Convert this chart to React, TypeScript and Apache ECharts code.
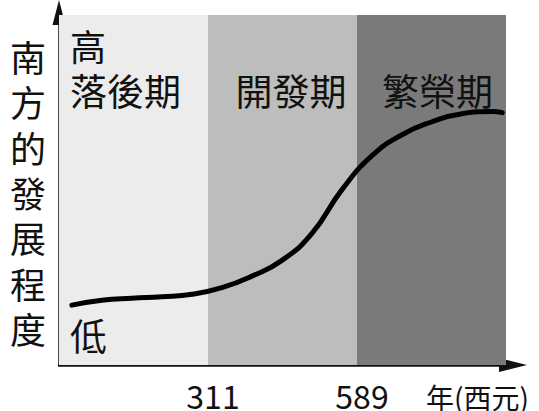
import React, { useEffect, useRef } from "react";
import * as echarts from "echarts";

// Years (西元) and development level (0–100)
const years = [57, 113, 169, 225, 281, 337, 393, 449, 505, 561, 617, 673, 729, 785, 841, 860];
const levels = [17.1, 18.5, 19.1, 19.5, 20.2, 22.1, 25.4, 29.9, 37.6, 50.1, 59.8, 65.8, 69.5, 71.8, 72.4, 72.1];

// Period boundaries (years) and names
const periodBounds = [33, 311, 589, 867];
const periodNames = ["落後期", "開發期", "繁榮期"];
const tickYears = [311, 589];

const yAxisTitle = "南方的發展程度";
const highLabel = "高";
const lowLabel = "低";
const xAxisTitle = "年(西元)";

const FONT = '"Noto Sans CJK TC", "Noto Sans CJK SC", "Noto Sans", sans-serif';
const bandColors = ["#ececec", "#bdbdbd", "#7a7a7a"];

export default function App() {
  const ref = useRef<HTMLDivElement>(null);

  useEffect(() => {
    if (!ref.current) return;
    const chart = echarts.init(ref.current, undefined, { renderer: "svg" });

    const areas = periodNames.map((_, i) => [
      { xAxis: periodBounds[i], yAxis: 0, itemStyle: { color: bandColors[i], opacity: 1 } },
      { xAxis: periodBounds[i + 1], yAxis: 100 },
    ]);

    const textStyle = (size: number) => ({
      fontSize: size,
      fontFamily: FONT,
      fill: "#111",
    });

    const titleChars = yAxisTitle.split("").map((ch, i) => ({
      type: "text",
      x: 28,
      y: 56 + i * 45.3,
      z: 100,
      style: { ...textStyle(36), text: ch, textAlign: "center", textVerticalAlign: "middle", lineHeight: 38 },
    }));

    const label = (text: string, x: number, y: number, size: number, align: string) => ({
      type: "text",
      x,
      y,
      z: 100,
      style: {
        ...textStyle(size),
        text,
        textAlign: align,
        textVerticalAlign: "middle",
        lineHeight: size,
      },
    });

    chart.setOption({
      animation: false,
      backgroundColor: "#ffffff",
      grid: { left: 59, top: 15, width: 447, height: 351 },
      xAxis: {
        type: "value",
        min: periodBounds[0],
        max: periodBounds[3],
        splitLine: { show: false },
        axisTick: { show: false },
        axisLine: {
          show: true,
          lineStyle: { color: "#111", width: 2.5 },
          symbol: ["none", "triangle"],
          symbolSize: [14, 28],
          symbolOffset: [0, 7],
        },
        axisLabel: {
          customValues: tickYears,
          color: "#111",
          fontSize: 32,
          lineHeight: 26,
          fontFamily: FONT,
          margin: 17,
          padding: [0, 0, 0, 10],
          formatter: (v: number) => String(v),
        },
      },
      yAxis: {
        type: "value",
        min: 0,
        max: 100,
        splitLine: { show: false },
        axisTick: { show: false },
        axisLabel: { show: false },
        axisLine: {
          show: true,
          lineStyle: { color: "#111", width: 2.5 },
          symbol: ["none", "triangle"],
          symbolSize: [13, 25],
          symbolOffset: [0, 2.5],
        },
      },
      series: [
        {
          type: "line",
          data: years.map((y, i) => [y, levels[i]]),
          smooth: 0.5,
          symbol: "none",
          silent: true,
          lineStyle: { color: "#000", width: 5, cap: "round" },
          z: 5,
          markArea: {
            silent: true,
            label: { show: false },
            data: areas,
          },
        },
      ],
      graphic: [
        ...titleChars,
        label(highLabel, 70, 45, 36, "left"),
        label(periodNames[0], 70, 90, 37, "left"),
        label(periodNames[1], 291, 90, 37, "center"),
        label(periodNames[2], 437.5, 90, 37, "center"),
        label(lowLabel, 70, 335, 37, "left"),
        label(xAxisTitle, 426, 397, 28, "left"),
      ],
    });

    return () => chart.dispose();
  }, []);

  return (
    <div
      ref={ref}
      style={{ position: "fixed", left: 0, top: 0, width: 539, height: 411, background: "#fff" }}
    />
  );
}
